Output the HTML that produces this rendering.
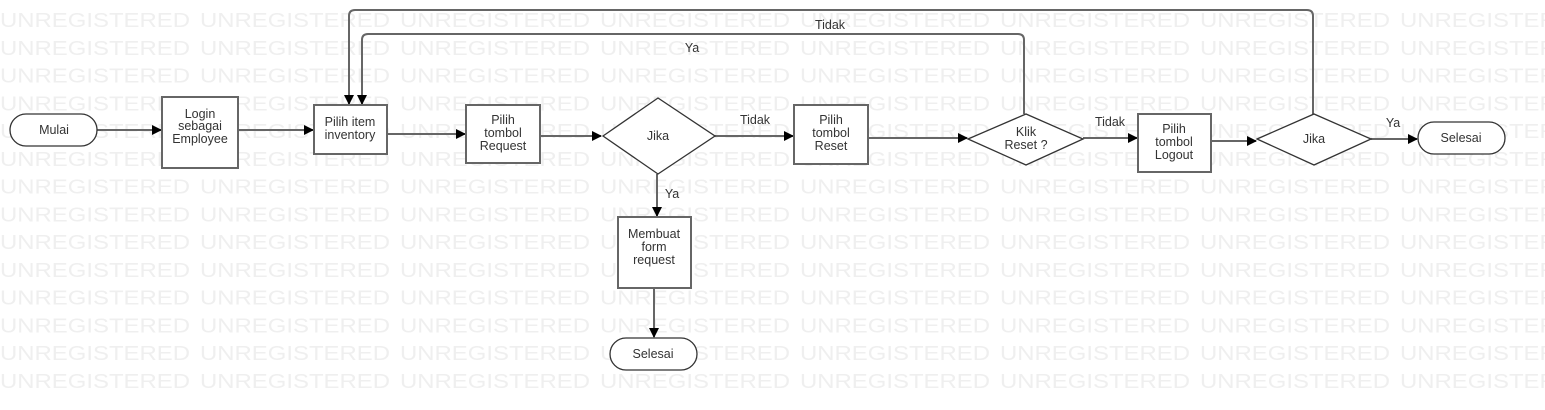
<!DOCTYPE html>
<html><head><meta charset="utf-8"><style>
html,body{margin:0;padding:0;background:#fff;}
svg{display:block;}
</style></head><body>
<svg width="1545" height="410" viewBox="0 0 1545 410" xmlns="http://www.w3.org/2000/svg">
<defs>
<marker id="a" markerWidth="10" markerHeight="10" refX="9" refY="5" orient="auto" markerUnits="userSpaceOnUse">
<path d="M0,0 L10,5 L0,10 Z" fill="#000"/></marker>
</defs>
<g font-family="Liberation Sans, sans-serif" font-size="20" fill="#efefef" id="wm">
</g>
<script>
var g=document.getElementById('wm'),ns='http://www.w3.org/2000/svg';
for(var r=0;r<14;r++){for(var c=0;c<8;c++){var t=document.createElementNS(ns,'text');t.setAttribute('x',c*200);t.setAttribute('y',(27+r*27.77).toFixed(1));t.setAttribute('textLength','190');t.setAttribute('lengthAdjust','spacingAndGlyphs');t.textContent='UNREGISTERED';g.appendChild(t);}}
</script>
<g stroke="#666" stroke-width="2" fill="none">
<line x1="97" y1="130" x2="161" y2="130" marker-end="url(#a)"/>
<line x1="238" y1="130" x2="313" y2="130" marker-end="url(#a)"/>
<line x1="387" y1="134" x2="465" y2="134" marker-end="url(#a)"/>
<line x1="540" y1="136" x2="601" y2="136" marker-end="url(#a)"/>
<line x1="715" y1="136" x2="793" y2="136" marker-end="url(#a)"/>
<line x1="868" y1="138" x2="967" y2="138" marker-end="url(#a)"/>
<line x1="1083" y1="138" x2="1137" y2="138" marker-end="url(#a)"/>
<line x1="1211" y1="141" x2="1256" y2="141" marker-end="url(#a)"/>
<line x1="1371" y1="139" x2="1417" y2="139" marker-end="url(#a)"/>
<line x1="657" y1="174" x2="657" y2="216" marker-end="url(#a)"/>
<line x1="654" y1="288" x2="654" y2="337" marker-end="url(#a)"/>
<path d="M1313,114 V16 Q1313,10 1307,10 H355 Q349,10 349,16 V104" marker-end="url(#a)"/>
<path d="M1024,114 V40 Q1024,34 1018,34 H368 Q362,34 362,40 V104" marker-end="url(#a)"/>
</g>
<g stroke="#666" stroke-width="2" fill="#fff">
<rect x="162" y="97" width="76" height="71"/>
<rect x="314" y="105" width="73" height="49"/>
<rect x="466" y="105" width="74" height="58"/>
<rect x="794" y="105" width="74" height="59"/>
<rect x="1138" y="114" width="73" height="58"/>
<rect x="618" y="217" width="73" height="71"/>
</g>
<g stroke="#333" stroke-width="1.3" fill="#fff">
<rect x="10" y="114" width="87" height="32" rx="16"/>
<rect x="1418" y="122" width="87" height="32" rx="16"/>
<rect x="610" y="338" width="87" height="32" rx="16"/>
<polygon points="603,136 658,98 715,136 658,174"/>
<polygon points="968,139 1026,114 1083,139 1026,165"/>
<polygon points="1257,139 1314,114 1371,139 1314,165"/>
</g>
<g font-family="Liberation Sans, sans-serif" font-size="12.5" fill="#333" text-anchor="middle">
<text x="54" y="134">Mulai</text>
<text x="200" y="118">Login</text><text x="200" y="130">sebagai</text><text x="200" y="143">Employee</text>
<text x="350" y="126">Pilih item</text><text x="350" y="139">inventory</text>
<text x="503" y="124">Pilih</text><text x="503" y="137">tombol</text><text x="503" y="150">Request</text>
<text x="658" y="140">Jika</text>
<text x="755" y="124">Tidak</text>
<text x="831" y="124">Pilih</text><text x="831" y="137">tombol</text><text x="831" y="150">Reset</text>
<text x="1026" y="136">Klik</text><text x="1026" y="149">Reset ?</text>
<text x="1110" y="126">Tidak</text>
<text x="1174" y="133">Pilih</text><text x="1174" y="146">tombol</text><text x="1174" y="159">Logout</text>
<text x="1314" y="143">Jika</text>
<text x="1393" y="127">Ya</text>
<text x="1461" y="142">Selesai</text>
<text x="672" y="198">Ya</text>
<text x="654" y="238">Membuat</text><text x="654" y="251">form</text><text x="654" y="264">request</text>
<text x="653" y="358">Selesai</text>
<text x="830" y="29">Tidak</text>
<text x="692" y="52">Ya</text>
</g>
</svg>
</body></html>
